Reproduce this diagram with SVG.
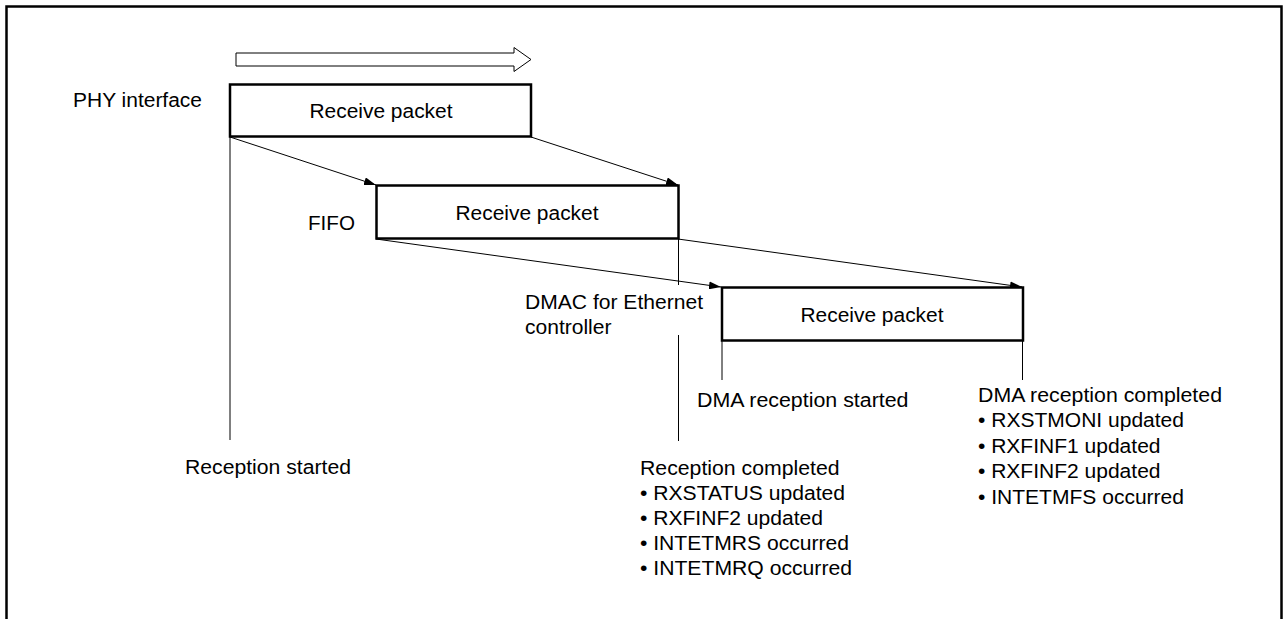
<svg xmlns="http://www.w3.org/2000/svg" width="1288" height="619" viewBox="0 0 1288 619">
<defs>
<style>
.t{font-family:"Liberation Sans",Arial,sans-serif;font-size:20px;fill:#000}
.bt{font-family:"Liberation Sans",Arial,sans-serif;font-size:19.5px;fill:#000;text-anchor:middle}
.box{fill:#fff;stroke:#000;stroke-width:2.5}
.ln{fill:none;stroke:#000;stroke-width:1}
</style>
<marker id="ah" markerUnits="userSpaceOnUse" markerWidth="12" markerHeight="8" refX="12" refY="4" orient="auto">
<path d="M0,0 L12,4 L0,8 z" fill="#000"/>
</marker>
</defs>
<rect width="1288" height="619" fill="#fff"/>
<path d="M6.5,625 V6.5 H1281.5 V625" fill="none" stroke="#000" stroke-width="2.5"/>
<g id="direction-arrow">
<polygon points="236,53 514,53 514,47.5 531,59.5 514,71.5 514,66 236,66" fill="#fff" stroke="#000" stroke-width="1"/>
</g>
<g id="connectors">
<line class="ln" x1="230" y1="137" x2="230" y2="440"/>
<line class="ln" x1="678.5" y1="238" x2="678.5" y2="285"/>
<line class="ln" x1="678.5" y1="335" x2="678.5" y2="441"/>
<line class="ln" x1="722" y1="340" x2="722" y2="380"/>
<line class="ln" x1="1022.5" y1="340" x2="1022.5" y2="380"/>
<line class="ln" x1="230" y1="137" x2="376" y2="185" marker-end="url(#ah)"/>
<line class="ln" x1="531" y1="137" x2="678" y2="185" marker-end="url(#ah)"/>
<line class="ln" x1="376" y1="239" x2="721" y2="287" marker-end="url(#ah)"/>
<line class="ln" x1="678" y1="239" x2="1022" y2="287" marker-end="url(#ah)"/>
</g>
<g id="phy">
<text class="t" x="73" y="107" textLength="129" lengthAdjust="spacingAndGlyphs">PHY interface</text>
<rect class="box" x="230" y="84.5" width="301" height="52"/>
<text class="bt" x="381" y="118" textLength="143" lengthAdjust="spacingAndGlyphs">Receive packet</text>
</g>
<g id="fifo">
<text class="t" x="355" y="230" text-anchor="end" textLength="47" lengthAdjust="spacingAndGlyphs">FIFO</text>
<rect class="box" x="376.5" y="185.5" width="302" height="53"/>
<text class="bt" x="527" y="220" textLength="143" lengthAdjust="spacingAndGlyphs">Receive packet</text>
</g>
<g id="dmac">
<text class="t" x="525" y="309" textLength="178" lengthAdjust="spacingAndGlyphs">DMAC for Ethernet</text>
<text class="t" x="525" y="334" textLength="86.5" lengthAdjust="spacingAndGlyphs">controller</text>
<rect class="box" x="722" y="287.5" width="301" height="53"/>
<text class="bt" x="872" y="322" textLength="143" lengthAdjust="spacingAndGlyphs">Receive packet</text>
</g>
<g id="reception-started">
<text class="t" x="185" y="474" textLength="166" lengthAdjust="spacingAndGlyphs">Reception started</text>
</g>
<g id="reception-completed">
<text class="t" x="640" y="475" textLength="199.5" lengthAdjust="spacingAndGlyphs">Reception completed</text>
<text class="t" x="640" y="500" textLength="205" lengthAdjust="spacingAndGlyphs">• RXSTATUS updated</text>
<text class="t" x="640" y="525" textLength="183" lengthAdjust="spacingAndGlyphs">• RXFINF2 updated</text>
<text class="t" x="640" y="550" textLength="209" lengthAdjust="spacingAndGlyphs">• INTETMRS occurred</text>
<text class="t" x="640" y="575" textLength="212" lengthAdjust="spacingAndGlyphs">• INTETMRQ occurred</text>
</g>
<g id="dma-reception-started">
<text class="t" x="697" y="407" textLength="211.5" lengthAdjust="spacingAndGlyphs">DMA reception started</text>
</g>
<g id="dma-reception-completed">
<text class="t" x="978" y="402" textLength="244" lengthAdjust="spacingAndGlyphs">DMA reception completed</text>
<text class="t" x="978" y="427" textLength="206" lengthAdjust="spacingAndGlyphs">• RXSTMONI updated</text>
<text class="t" x="978" y="452.5" textLength="182.5" lengthAdjust="spacingAndGlyphs">• RXFINF1 updated</text>
<text class="t" x="978" y="478" textLength="182.5" lengthAdjust="spacingAndGlyphs">• RXFINF2 updated</text>
<text class="t" x="978" y="503.5" textLength="206" lengthAdjust="spacingAndGlyphs">• INTETMFS occurred</text>
</g>
</svg>
